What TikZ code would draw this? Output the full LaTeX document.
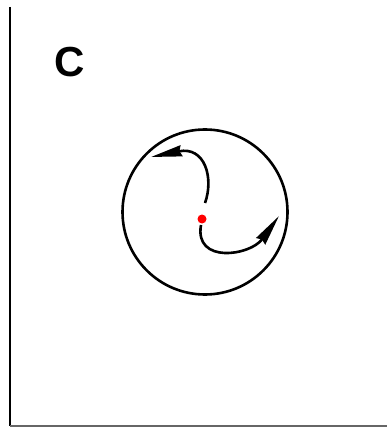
\documentclass[tikz,border=0pt]{standalone}
\usepackage{fontspec}
\setmainfont{Liberation Sans}
\usetikzlibrary{arrows.meta}
\tikzset{
  stroke/.style={line width=2.6pt, black},
  spiral/.style={stroke, -{Stealth[length=31pt,width=11pt,inset=2pt]}}
}
\begin{document}
\begin{tikzpicture}[x=1pt,y=-1pt]
\useasboundingbox (0,0) rectangle (387,427);
\fill[white] (0,0) rectangle (387,427);
\draw[line width=2pt] (10,7) -- (10,426);
\draw[line width=1.6pt, black!60] (10,426) -- (387,426);
\node[font=\bfseries\fontsize{42}{42}\selectfont, anchor=base] (lab) at (70,77) {C};
\node[circle, draw, line width=2.6pt, minimum size=165pt, inner sep=0pt] (ring) at (205,212) {};
\node[circle, fill=red, minimum size=9pt, inner sep=0pt] (dot) at (202,219) {};
\coordinate (s1) at (205,203);
\coordinate (t1) at (151,157);
\coordinate (s2) at (201,225);
\coordinate (t2) at (279,216);
\draw[spiral] (s1) .. controls (214,178) and (205,146) .. (t1);
\draw[spiral] (s2) .. controls (194,264) and (250,256) .. (t2);
\end{tikzpicture}
\end{document}
